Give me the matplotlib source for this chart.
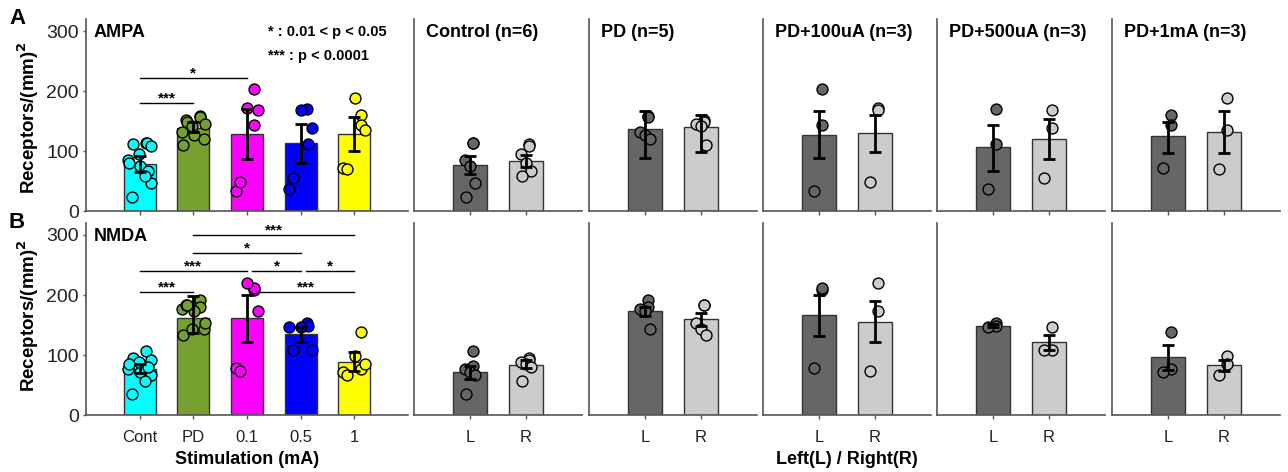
import numpy as np
import matplotlib
matplotlib.use("Agg")
import matplotlib.pyplot as plt

plt.rcParams['font.family'] = ['Liberation Sans', 'DejaVu Sans']

# ---------------- data ----------------
stim_labels = ['Cont', 'PD', '0.1', '0.5', '1']
side_labels = ['L', 'R']
panel_titles = ['Control (n=6)', 'PD (n=5)', 'PD+100uA (n=3)', 'PD+500uA (n=3)', 'PD+1mA (n=3)']
stim_colors = ['#00FFFF', '#76A130', '#FF00FF', '#0000FF', '#FFFF00']
side_colors = ['#666666', '#CCCCCC']

# AMPA individual values (left / right hemisphere) per group
ampa_L_pts = [[114, 114, 85, 75, 47, 23],
              [158, 156, 132, 127, 120],
              [203, 144, 34],
              [170, 111, 36],
              [160, 144, 71]]
ampa_R_pts = [[112, 108, 95, 80, 66, 59],
              [151, 149, 145, 141, 110],
              [171, 169, 49],
              [168, 138, 55],
              [188, 135, 70]]
ampa_L_mean = [76, 137, 127, 106, 125]
ampa_L_lo = [62, 88, 88, 67, 97]
ampa_L_hi = [91, 166, 166, 144, 149]
ampa_R_mean = [83, 140, 130, 120, 132]
ampa_R_lo = [74, 98, 98, 86, 97]
ampa_R_hi = [94, 160, 160, 154, 166]
ampa_all_mean = [79, 139, 128, 113, 128]
ampa_all_lo = [65, 131, 87, 80, 100]
ampa_all_hi = [91, 148, 170, 145, 156]

# NMDA
nmda_L_pts = [[106, 81, 76, 72, 67, 35],
              [192, 180, 177, 173, 144],
              [209, 212, 78],
              [154, 148, 147],
              [139, 76, 71]]
nmda_R_pts = [[95, 92, 88, 85, 80, 57],
              [184, 184, 153, 143, 134],
              [220, 174, 74],
              [147, 109, 108],
              [99, 85, 67]]
nmda_L_mean = [71, 173, 166, 149, 96]
nmda_L_lo = [60, 165, 131, 147, 75]
nmda_L_hi = [82, 180, 200, 151, 117]
nmda_R_mean = [83, 160, 155, 121, 83]
nmda_R_lo = [78, 148, 122, 109, 74]
nmda_R_hi = [92, 170, 190, 134, 92]
nmda_all_mean = [77, 161, 161, 135, 89]
nmda_all_lo = [70, 137, 122, 122, 74]
nmda_all_hi = [85, 198, 200, 147, 105]

# significance: (group i, group j, height, label)
ampa_sig = [(0, 1, 180, '***'), (0, 2, 221, '*')]
nmda_sig = [(0, 1, 205, '***'), (0, 2, 240, '***'), (2, 3, 240, '*'), (3, 4, 240, '*'),
            (1, 3, 270, '*'), (1, 4, 300, '***'), (2, 4, 205, '***')]
nmda_sig_start_shift = [0, 0, 0.1, 0.1, 0, 0, 0.2]
ampa_sig_start_shift = [0, 0]

# ---------------- layout ----------------
W, H = 1288, 472
fig = plt.figure(figsize=(W / 100, H / 100), dpi=100)

def px_axes(x0, y_top, w, y_bot):
    return fig.add_axes([x0 / W, 1 - y_bot / H, w / W, (y_bot - y_top) / H])

col_x = [86, 414, 589, 763, 937, 1112]
col_w = [322, 168, 168, 168, 168, 168]
rows = [(19, 211), (223, 415)]

SPINE = '#555555'

def style(ax, xlim, show_ylabels):
    for s in ['top', 'right']:
        ax.spines[s].set_visible(False)
    for s in ['left', 'bottom']:
        ax.spines[s].set_color(SPINE)
        ax.spines[s].set_linewidth(1.2)
    ax.set_xlim(*xlim)
    ax.set_ylim(0, 320)
    ax.set_yticks([0, 100, 200, 300])
    ax.tick_params(axis='y', length=2, width=1, color=SPINE, labelsize=14, pad=3,
                   labelcolor='#222222')
    ax.tick_params(axis='x', length=3, width=1, color=SPINE, labelsize=12, pad=8,
                   labelcolor='#222222')
    if not show_ylabels:
        ax.tick_params(axis='y', length=0, labelleft=False)

def offsets(n, spread):
    return spread * np.sin(1.9 * np.arange(n) + 0.6)

def draw_bars(ax, xs, means, los, his, colors, pts, spread):
    means = np.asarray(means, float)
    lo = means - np.asarray(los, float)
    hi = np.asarray(his, float) - means
    ax.bar(xs, means, width=0.6, color=colors, edgecolor='#333333', linewidth=1.0, zorder=2)
    for x, p, c in zip(xs, pts, colors):
        p = np.asarray(p, float)
        ax.scatter(x + offsets(len(p), spread), p, s=62, color=c, edgecolors='black',
                   linewidths=1.0, zorder=3)
    ax.errorbar(xs, means, yerr=[lo, hi], fmt='none', ecolor='black', elinewidth=2,
                capsize=4.5, capthick=2, zorder=4)

def draw_sig(ax, sigs, shifts):
    for (i, j, h, lab), sh in zip(sigs, shifts):
        ax.plot([i + sh, j], [h, h], color='black', lw=1, zorder=5)
        ax.text((i + sh + j) / 2, h + 1, lab, ha='center', va='baseline', fontsize=11,
                fontweight='bold', zorder=5)

datasets = [
    (ampa_L_pts, ampa_R_pts, ampa_L_mean, ampa_L_lo, ampa_L_hi, ampa_R_mean, ampa_R_lo, ampa_R_hi,
     ampa_all_mean, ampa_all_lo, ampa_all_hi, ampa_sig, ampa_sig_start_shift, 'AMPA'),
    (nmda_L_pts, nmda_R_pts, nmda_L_mean, nmda_L_lo, nmda_L_hi, nmda_R_mean, nmda_R_lo, nmda_R_hi,
     nmda_all_mean, nmda_all_lo, nmda_all_hi, nmda_sig, nmda_sig_start_shift, 'NMDA'),
]

for r, (Lp, Rp, Lm, Llo, Lhi, Rm, Rlo, Rhi, Am, Alo, Ahi, sig, shifts, name) in enumerate(datasets):
    yt, yb = rows[r]
    # main panel
    ax = px_axes(col_x[0], yt, col_w[0], yb)
    style(ax, (-1, 5), True)
    xs = np.arange(len(stim_labels))
    all_pts = [list(a) + list(b) for a, b in zip(Lp, Rp)]
    draw_bars(ax, xs, Am, Alo, Ahi, stim_colors, all_pts, 0.22)
    draw_sig(ax, sig, shifts)
    ax.set_xticks(xs)
    ax.set_xticklabels(stim_labels if r == 1 else [])
    ax.text(8 / col_w[0], 0.93, name, transform=ax.transAxes, fontsize=13, fontweight='bold',
            ha='left', va='center')
    if r == 0:
        ax.text(0.565, 0.932, '* : 0.01 < p < 0.05', transform=ax.transAxes, fontsize=10.5,
                fontweight='bold', ha='left', va='center')
        ax.text(0.565, 0.807, '*** : p < 0.0001', transform=ax.transAxes, fontsize=10.5,
                fontweight='bold', ha='left', va='center')
    # side panels
    for g in range(5):
        axs = px_axes(col_x[g + 1], yt, col_w[g + 1], yb)
        style(axs, (-1, 2), False)
        draw_bars(axs, [0, 1], [Lm[g], Rm[g]], [Llo[g], Rlo[g]], [Lhi[g], Rhi[g]],
                  side_colors, [Lp[g], Rp[g]], 0.1)
        axs.set_xticks([0, 1])
        axs.set_xticklabels(side_labels if r == 1 else [])
        if r == 0:
            axs.text(12 / col_w[g + 1], 0.93, panel_titles[g], transform=axs.transAxes,
                     fontsize=13, fontweight='bold', ha='left', va='center')

# labels
ylab = 'Receptors/(mm)$^{\\mathbf{2}}$'
fig.text(28 / W, 1 - 118 / H, ylab, rotation=90, ha='center', va='center', fontsize=13.5,
         fontweight='bold')
fig.text(28 / W, 1 - 316 / H, ylab, rotation=90, ha='center', va='center', fontsize=13.5,
         fontweight='bold')
fig.text(17 / W, 1 - 18 / H, 'A', ha='center', va='center', fontsize=16, fontweight='bold')
fig.text(17 / W, 1 - 222 / H, 'B', ha='center', va='center', fontsize=16, fontweight='bold')
fig.text(247 / W, 1 - 459 / H, 'Stimulation (mA)', ha='center', va='center', fontsize=13,
         fontweight='bold')
fig.text(847 / W, 1 - 459 / H, 'Left(L) / Right(R)', ha='center', va='center', fontsize=13,
         fontweight='bold')

fig.savefig('out.png', dpi=100)
